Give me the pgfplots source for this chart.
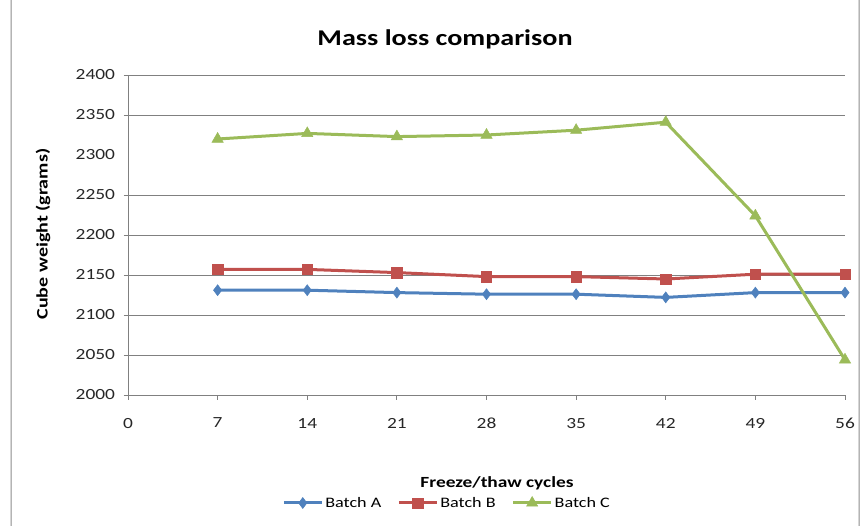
\documentclass[border=0pt]{standalone}
\usepackage{pgfplots}
\pgfplotsset{compat=1.18}
\usepackage{fontspec}
\setmainfont{Carlito}[FakeStretch=1.25]
\definecolor{cA}{HTML}{4F81BD}
\definecolor{cB}{HTML}{C0504D}
\definecolor{cC}{HTML}{9BBB59}
\begin{document}
\begin{tikzpicture}[x=1pt,y=1pt]
\useasboundingbox (0,0) rectangle (864,525);
\draw[black!45, line width=1pt, rounded corners=8pt] (11,-12) rectangle (859,537);
\node[font=\fontsize{22.5}{24}\selectfont\bfseries] at (445,486) {Mass loss comparison};
\node[font=\fontsize{15.5}{17}\selectfont\bfseries] at (497,42) {Freeze/thaw cycles};
\node[font=\fontsize{16}{18}\selectfont\bfseries, rotate=90] at (43,291) {Cube weight (grams)};
\begin{axis}[
  at={(128pt,130pt)}, anchor=south west,
  scale only axis, width=717pt, height=320pt,
  xmin=0, xmax=56, ymin=2000, ymax=2400,
  xtick={0,7,...,56}, ytick={2000,2050,2100,2150,2200,2250,2350,2400},
  extra y ticks={2300},
  extra y tick style={grid=none, tick style={draw=none}},
  extra y tick labels={2300},
  axis x line=bottom, axis y line=left,
  axis line style={black!50, line width=0.8pt, -},
  ymajorgrids, grid style={black!50, line width=0.8pt},
  tick align=outside, major tick length=4.5pt,
  tick style={black!50, line width=0.8pt},
  ticklabel style={font=\fontsize{15.5}{17}\selectfont, text=black!85},
  /pgf/number format/assume math mode=true,
  /pgf/number format/1000 sep={},
  xticklabel style={yshift=-15pt},
  yticklabel style={xshift=-5pt},
  clip=false,
  legend columns=3,
  legend style={at={(0.445,-0.3375)}, anchor=center, draw=none, fill=none,
    font=\fontsize{14.5}{16}\selectfont,
    /tikz/every even column/.append style={column sep=14pt},
    nodes={inner xsep=2pt}},
  legend image code/.code={\draw[#1] (0pt,0pt) -- (38pt,0pt); \draw[#1, mark repeat=1] plot coordinates {(19pt,0pt)};},
]
\addplot[cA, line width=3pt, mark=diamond*, mark size=5.5pt, mark options={solid, line width=0.5pt}] coordinates {
(7,2131) (14,2131) (21,2128) (28,2126) (35,2126) (42,2122) (49,2128) (56,2128)};
\addlegendentry{Batch A}
\addplot[cB, line width=3pt, mark=square*, mark size=5.2pt, mark options={solid, line width=0.5pt}] coordinates {
(7,2157) (14,2157) (21,2153) (28,2148) (35,2148) (42,2145) (49,2151) (56,2151)};
\addlegendentry{Batch B}
\addplot[cC, line width=3pt, mark=triangle*, mark size=6.5pt, mark options={solid, line width=0.5pt}] coordinates {
(7,2320) (14,2327) (21,2323) (28,2325) (35,2331) (42,2341) (49,2224) (56,2044)};
\addlegendentry{Batch C}
\end{axis}
\end{tikzpicture}
\end{document}
